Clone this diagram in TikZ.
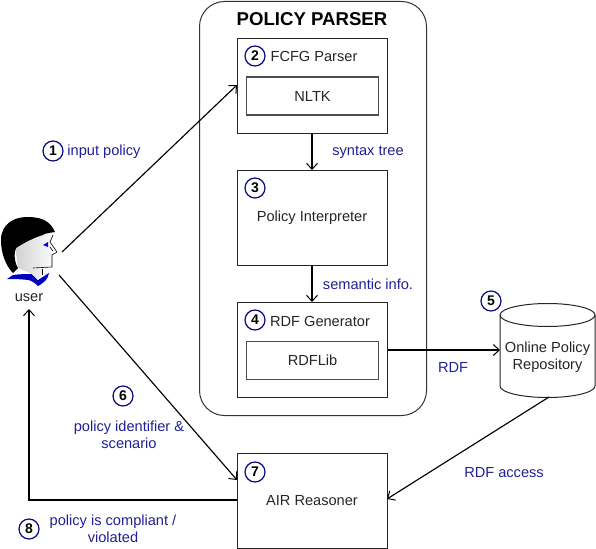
\documentclass[tikz,border=0pt]{standalone}
\usepackage{fontspec}
\setmainfont{Liberation Sans}
\usetikzlibrary{arrows.meta}
\definecolor{lab}{RGB}{32,32,150}
\definecolor{circ}{RGB}{10,10,130}
\tikzset{
  x=1pt,y=-1pt,
  boxn/.style={draw=black!85,line width=1pt,fill=white,minimum width=150pt,minimum height=95pt,inner sep=0pt,anchor=north west},
  innerbox/.style={draw=black!70,line width=1.1pt,fill=white,minimum width=132pt,minimum height=38pt,inner sep=0pt,anchor=north west,font=\fontsize{14.6}{17}\selectfont,text=black!85},
  txt/.style={font=\fontsize{14.6}{17.5}\selectfont,text=black!85,align=center,inner sep=0pt},
  lbl/.style={font=\fontsize{14.6}{17}\selectfont,text=lab,align=center,inner sep=0pt},
  num/.style={draw=circ,line width=1.25pt,circle,minimum size=20pt,inner sep=0pt,font=\bfseries\fontsize{14}{16}\selectfont,text=black},
  conn/.style={line width=1.15pt,-{Straight Barb[length=6pt,width=11pt,line width=1pt]}},
}
\begin{document}
\begin{tikzpicture}
\useasboundingbox (0,0) rectangle (596,548);
% outer
\node[draw=black!80,line width=1pt,rounded corners=25pt,minimum width=227pt,minimum height=414pt,inner sep=0pt,anchor=north west] (outer) at (199,1) {};
\node[font=\bfseries\fontsize{18.6}{20}\selectfont,inner sep=0pt] (title) at (312,19) {POLICY PARSER};
% boxes
\node[boxn] (fcfg) at (237,38) {};
\node[innerbox] (nltk) at (246,76.5) {NLTK};
\node[boxn] (interp) at (237,170) {};
\node[boxn] (rdfgen) at (237,302) {};
\node[innerbox] (rdflib) at (246,340.5) {RDFLib};
\node[boxn] (air) at (237,453) {};
\node[txt] (t2) at (314,56.5) {FCFG Parser};
\node[txt] (t3) at (312,218) {Policy Interpreter};
\node[txt] (t4) at (320,321) {RDF Generator};
\node[txt] (t7) at (312,500.5) {AIR Reasoner};
% cylinder
\draw[line width=1pt,draw=black!85,fill=white] (500,315) arc[start angle=180,end angle=0,x radius=47.5pt,y radius=11.5pt] -- (595,386) arc[start angle=0,end angle=-180,x radius=47.5pt,y radius=11.5pt] -- cycle;
\draw[line width=1pt,draw=black!85] (500,315) arc[start angle=180,end angle=360,x radius=47.5pt,y radius=11.5pt];
\node[txt,minimum width=95pt,minimum height=60pt] (repo) at (547.5,357) {Online Policy\\Repository};
\coordinate (cylE) at (500,350);
\coordinate (cylB) at (549,397);
% user
\fill[blue!75!black] (7,279) -- (13,275) .. controls (20,274) and (26,274) .. (32,274) -- (38,280) -- (49,273) .. controls (48,279) and (45,282) .. (38,286) .. controls (34,282) and (30,280) .. (28,280) .. controls (20,279) and (12,279) .. (7,279) -- cycle;
\shade[left color=black!18,right color=white] (15,245) -- (50,232) -- (53,235) -- (50,242) -- (57,252) -- (52,255) -- (52,267) -- (42,269) -- (42,275) -- (38,280) -- (32,274) -- (18,268) -- cycle;
\draw[line width=.6pt] (53,235) -- (50,242) -- (57,252) -- (52,255) -- (52,267) -- (33,268);
\draw[line width=.6pt] (42,269) -- (42,275);
\fill[black] (1,240) .. controls (1,224) and (14,217) .. (27,217) .. controls (40,217) and (50,220) .. (55,232) .. controls (48,233) and (43,234) .. (43,235) .. controls (36,237) and (27,241) .. (16,248) .. controls (14,252) and (14,262) .. (18,268) -- (13,273) .. controls (6,266) and (1,254) .. (1,240) -- cycle;
\fill[blue] (43,245) -- (48,242) -- (48,247) -- cycle;
\draw[line width=.6pt] (50,247) -- (53,251);
\node[font=\fontsize{14.6}{17}\selectfont,text=black!85,inner sep=0pt] (user) at (29,298) {user};
\coordinate (uOut) at (62,252);
\coordinate (uIn) at (59,275);
\coordinate (back) at (29,309);
% connectors
\draw[conn] (uOut) -- (237,85);
\draw[conn] (uIn) -- (237,480);
\draw[conn] (312,133) -- (312,170);
\draw[conn] (312,265) -- (312,302);
\draw[conn] (rdfgen.east |- cylE) -- (cylE);
\draw[conn] (cylB) -- (387,499);
\draw[conn] (237,500) -- (29,500) -- (back);
% numbers
\node[num] (n1) at (53,151) {1};
\node[num] (n2) at (255,56) {2};
\node[num] (n3) at (255,188) {3};
\node[num] (n4) at (255,320) {4};
\node[num] (n5) at (491,301) {5};
\node[num] (n6) at (123,396) {6};
\node[num] (n7) at (255,472) {7};
\node[num] (n8) at (29,529) {8};
% labels
\node[lbl] (l1) at (104,152) {input policy};
\node[lbl] (l2) at (368,152) {syntax tree};
\node[lbl] (l3) at (368,284) {semantic info.};
\node[lbl] (l4) at (453,367) {RDF};
\node[lbl] (l5) at (504,473) {RDF access};
\node[lbl] (l6) at (129,434.5) {policy identifier \&\\scenario};
\node[lbl] (l8) at (113,529) {policy is compliant /\\violated};
\end{tikzpicture}
\end{document}
